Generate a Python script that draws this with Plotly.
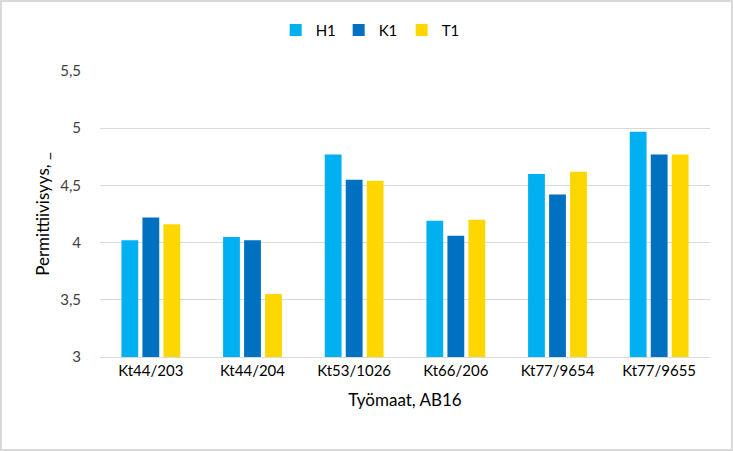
import plotly.graph_objects as go

# Työmaat ja permittiivisyysarvot
tyomaat = ["Kt44/203", "Kt44/204", "Kt53/1026", "Kt66/206", "Kt77/9654", "Kt77/9655"]
h1 = [4.02, 4.05, 4.77, 4.19, 4.60, 4.97]
k1 = [4.22, 4.02, 4.55, 4.06, 4.42, 4.77]
t1 = [4.16, 3.55, 4.54, 4.20, 4.62, 4.77]

sarjat = [("H1", h1, "#00B0F0"), ("K1", k1, "#0070C0"), ("T1", t1, "#FFD700")]

fig = go.Figure()
for nimi, arvot, vari in sarjat:
    fig.add_trace(go.Bar(
        x=tyomaat,
        y=arvot,
        name=nimi,
        marker=dict(color=vari, line=dict(width=0))
    ))

fig.update_layout(
    width=733,
    height=451,
    barmode="group",
    bargap=0.38,
    bargroupgap=0.2,
    separators=", ",
    template="plotly_white",
    plot_bgcolor="white",
    paper_bgcolor="white",
    font=dict(family="Lato, Open Sans, sans-serif", size=15, color="#404040"),
    margin=dict(l=100, r=23, t=71, b=94, autoexpand=False),
    legend=dict(
        orientation="h",
        xref="container", yref="container",
        x=0.505, xanchor="center",
        y=0.933, yanchor="middle",
        bgcolor="rgba(0,0,0,0)",
        font=dict(size=15, color="#000000"),
        itemwidth=30,
        entrywidth=18,
        traceorder="normal",
    ),
    xaxis=dict(
        title=dict(text="Työmaat, AB16", font=dict(size=17, color="#000000"), standoff=16),
        tickfont=dict(size=15, color="#000000"),
        showgrid=False,
        showline=True,
        linecolor="#D9D9D9",
        linewidth=1,
        ticks="",
    ),
    yaxis=dict(
        title=dict(text="Permittiivisyys, _", font=dict(size=17, color="#000000"), standoff=6),
        range=[3, 5.5],
        dtick=0.5,
        tickformat=",.1~f",
        tickfont=dict(size=15, color="#404040"),
        showgrid=True,
        gridcolor="#D9D9D9",
        gridwidth=1,
        zeroline=False,
        ticks="",
        ticklabelstandoff=18,
    ),
    # kehys kuvan reunoille
    shapes=[dict(
        type="rect", xref="paper", yref="paper",
        x0=-99 / 610, x1=1 + 22 / 610, y0=-93 / 286, y1=1 + 70 / 286,
        line=dict(color="#D9D9D9", width=2), layer="below"
    )],
)

fig.write_html("out.html", config={"displayModeBar": False},
               post_script="document.body.style.margin = '0';")
